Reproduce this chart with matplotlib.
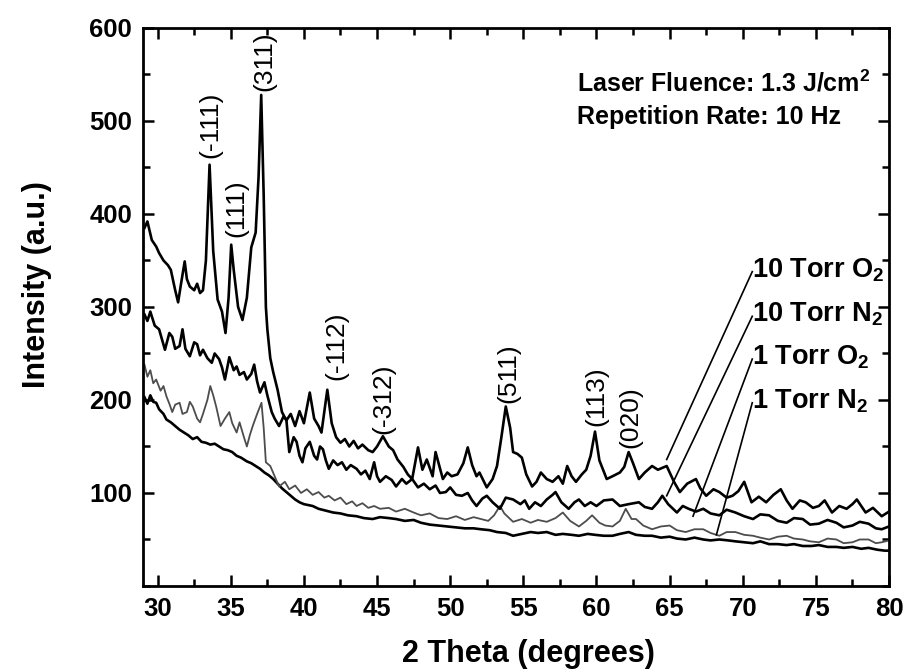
import matplotlib
matplotlib.use('Agg')
import matplotlib.pyplot as plt
from matplotlib.ticker import MultipleLocator

plt.rcParams['font.family'] = ['Liberation Sans', 'DejaVu Sans']
plt.rcParams['mathtext.fontset'] = 'custom'
plt.rcParams['mathtext.rm'] = 'Liberation Sans'
plt.rcParams['mathtext.bf'] = 'Liberation Sans:bold'

# 10 Torr O2 (top trace)
o2_10 = [(29.1, 385), (29.3, 392), (29.6, 372), (29.9, 365), (30.1, 358), (30.4, 350), (30.7, 345),
         (30.9, 340), (31.2, 318), (31.4, 305), (31.6, 325), (31.85, 349), (32.0, 330), (32.2, 322),
         (32.5, 318), (32.7, 325), (32.9, 315), (33.1, 318), (33.3, 350), (33.55, 453), (33.8, 360),
         (34.1, 308), (34.4, 295), (34.64, 272), (34.85, 310), (35.03, 367), (35.2, 340), (35.5, 300),
         (35.8, 286), (36.1, 310), (36.4, 364), (36.7, 380), (36.9, 440), (37.08, 528), (37.25, 420),
         (37.4, 300), (37.5, 276), (37.7, 245), (37.9, 230), (38.2, 211), (38.5, 187), (38.8, 178),
         (39.1, 185), (39.4, 172), (39.7, 188), (40.0, 175), (40.4, 208), (40.7, 180), (41.0, 172),
         (41.2, 165), (41.6, 211), (41.9, 175), (42.2, 160), (42.5, 154), (42.8, 158), (43.1, 150),
         (43.4, 156), (43.7, 148), (44.0, 152), (44.4, 146), (44.7, 144), (45.0, 150), (45.4, 161),
         (45.8, 150), (46.1, 146), (46.4, 136), (46.8, 128), (47.1, 120), (47.4, 115), (47.8, 149),
         (48.1, 125), (48.4, 136), (48.8, 118), (49.0, 144), (49.5, 115), (49.8, 122), (50.1, 118),
         (50.5, 120), (50.9, 132), (51.2, 149), (51.5, 130), (51.8, 118), (52.0, 122), (52.5, 106),
         (52.9, 115), (53.2, 129), (53.5, 160), (53.8, 193), (54.1, 170), (54.3, 144), (54.6, 142),
         (54.9, 138), (55.2, 120), (55.6, 107), (55.9, 112), (56.2, 122), (56.6, 115), (57.0, 112),
         (57.4, 118), (57.7, 110), (58.0, 129), (58.3, 118), (58.6, 112), (59.0, 120), (59.3, 125),
         (59.6, 140), (59.9, 166), (60.2, 135), (60.7, 115), (61.1, 118), (61.6, 122), (61.9, 128),
         (62.2, 144), (62.5, 132), (62.9, 115), (63.3, 122), (63.8, 129), (64.2, 125), (64.8, 129),
         (65.3, 112), (65.7, 101), (66.2, 110), (66.8, 115), (67.1, 105), (67.5, 97), (68.0, 104),
         (68.4, 101), (68.9, 95), (69.3, 97), (69.7, 102), (70.1, 112), (70.6, 90), (71.1, 96),
         (71.6, 90), (72.1, 98), (72.6, 104), (73.0, 92), (73.4, 83), (73.9, 92), (74.3, 90),
         (74.8, 84), (75.2, 86), (75.6, 92), (76.1, 79), (76.6, 86), (77.1, 83), (77.5, 88),
         (77.8, 93), (78.4, 79), (78.9, 84), (79.5, 75), (80.0, 80)]

# 10 Torr N2
n2_10 = [(29.1, 292), (29.3, 285), (29.5, 295), (29.8, 280), (30.1, 276), (30.3, 265), (30.5, 254),
         (30.8, 272), (31.0, 268), (31.2, 255), (31.5, 258), (31.7, 276), (31.9, 255), (32.2, 247),
         (32.5, 262), (32.7, 260), (32.9, 248), (33.1, 254), (33.4, 245), (33.7, 240), (33.9, 250),
         (34.2, 244), (34.4, 235), (34.6, 222), (34.9, 246), (35.2, 232), (35.4, 236), (35.6, 227),
         (35.9, 230), (36.1, 222), (36.4, 228), (36.6, 238), (36.8, 220), (37.0, 208), (37.3, 219),
         (37.5, 205), (37.8, 187), (38.0, 180), (38.3, 172), (38.6, 182), (38.8, 179), (39.0, 144),
         (39.3, 160), (39.5, 155), (39.7, 140), (39.9, 133), (40.1, 148), (40.4, 155), (40.7, 140),
         (40.9, 136), (41.1, 150), (41.3, 147), (41.5, 135), (41.7, 126), (42.0, 135), (42.3, 130),
         (42.6, 133), (42.9, 125), (43.2, 130), (43.6, 126), (43.9, 120), (44.2, 124), (44.5, 115),
         (44.8, 133), (45.0, 118), (45.2, 112), (45.6, 118), (46.0, 114), (46.3, 107), (46.7, 115),
         (47.0, 110), (47.4, 115), (47.8, 106), (48.2, 110), (48.6, 104), (49.0, 108), (49.3, 100),
         (49.7, 101), (50.0, 106), (50.4, 98), (50.8, 97), (51.2, 100), (51.5, 92), (51.8, 86),
         (52.2, 94), (52.5, 97), (52.9, 90), (53.4, 83), (53.8, 95), (54.3, 93), (54.8, 88),
         (55.1, 92), (55.4, 83), (55.8, 90), (56.2, 86), (56.6, 93), (57.0, 98), (57.2, 101),
         (57.6, 90), (58.1, 83), (58.5, 90), (58.8, 93), (59.2, 86), (59.6, 90), (60.0, 86),
         (60.5, 92), (61.1, 93), (61.6, 86), (62.2, 88), (62.9, 90), (63.3, 85), (63.8, 83),
         (64.2, 90), (64.5, 97), (64.9, 88), (65.5, 79), (65.9, 86), (66.3, 83), (66.8, 80),
         (67.3, 83), (67.8, 78), (68.4, 76), (68.9, 82), (69.5, 79), (70.1, 75), (70.7, 72),
         (71.2, 77), (71.8, 76), (72.4, 70), (73.0, 68), (73.5, 73), (74.1, 72), (74.6, 66),
         (75.2, 67), (75.8, 71), (76.4, 68), (76.9, 63), (77.5, 65), (78.0, 69), (78.6, 67),
         (79.1, 62), (79.5, 61), (80.0, 64)]

# 1 Torr O2 (grey trace)
o2_1 = [(29.1, 238), (29.3, 225), (29.5, 232), (29.7, 218), (29.9, 222), (30.2, 210), (30.4, 215),
        (30.6, 204), (30.8, 196), (31.0, 187), (31.2, 195), (31.5, 197), (31.7, 185), (32.0, 187),
        (32.2, 198), (32.4, 193), (32.7, 180), (32.9, 176), (33.1, 185), (33.4, 200), (33.6, 215),
        (33.8, 205), (34.0, 193), (34.3, 172), (34.6, 180), (34.9, 187), (35.1, 175), (35.4, 165),
        (35.6, 176), (35.9, 160), (36.1, 150), (36.3, 162), (36.5, 172), (36.8, 185), (37.1, 197),
        (37.25, 170), (37.4, 133), (37.7, 129), (38.0, 118), (38.3, 107), (38.7, 112), (39.0, 104),
        (39.4, 108), (39.8, 100), (40.2, 104), (40.6, 98), (41.0, 101), (41.4, 95), (41.7, 97),
        (42.1, 92), (42.5, 95), (42.9, 88), (43.3, 91), (43.6, 86), (44.0, 89), (44.4, 84),
        (44.8, 86), (45.2, 83), (45.8, 84), (46.3, 80), (46.9, 83), (47.5, 79), (48.0, 76),
        (48.6, 78), (49.2, 73), (49.8, 72), (50.4, 75), (51.0, 71), (51.6, 74), (52.1, 72),
        (52.6, 70), (53.0, 76), (53.4, 86), (53.7, 78), (54.3, 69), (54.9, 72), (55.5, 68),
        (56.0, 71), (56.6, 69), (57.2, 73), (57.7, 79), (58.2, 70), (58.8, 64), (59.3, 70),
        (59.7, 76), (60.2, 68), (60.6, 65), (61.1, 64), (61.6, 70), (62.0, 83), (62.4, 72),
        (62.7, 72), (63.2, 65), (63.8, 61), (64.4, 64), (65.0, 65), (65.5, 60), (66.1, 58),
        (66.7, 61), (67.3, 61), (67.8, 57), (68.4, 54), (68.9, 58), (69.5, 58), (70.1, 55),
        (70.7, 54), (71.2, 52), (71.8, 50), (72.4, 53), (73.0, 54), (73.5, 51), (74.1, 50),
        (74.6, 48), (75.2, 47), (75.8, 51), (76.4, 50), (76.9, 46), (77.5, 47), (78.0, 50),
        (78.6, 50), (79.1, 46), (79.5, 47), (80.0, 49)]

# 1 Torr N2 (lowest trace)
n2_1 = [(29.1, 203), (29.3, 196), (29.5, 205), (29.7, 198), (29.9, 197), (30.1, 190), (30.4, 185),
        (30.6, 179), (30.9, 176), (31.2, 172), (31.5, 168), (31.8, 165), (32.1, 162), (32.4, 158),
        (32.7, 160), (33.0, 155), (33.3, 154), (33.6, 152), (33.9, 153), (34.2, 150), (34.5, 147),
        (34.8, 146), (35.1, 144), (35.4, 140), (35.7, 138), (36.1, 134), (36.4, 132), (36.7, 129),
        (37.0, 126), (37.3, 122), (37.6, 119), (37.9, 115), (38.2, 110), (38.5, 105), (38.8, 101),
        (39.1, 97), (39.4, 93), (39.7, 90), (40.0, 88), (40.3, 87), (40.6, 86), (41.0, 83),
        (41.5, 81), (42.0, 79), (42.5, 78), (43.0, 76), (43.6, 75), (44.1, 73), (44.7, 72),
        (45.2, 74), (45.8, 73), (46.3, 72), (46.9, 70), (47.5, 71), (48.0, 68), (48.6, 66),
        (49.2, 65), (49.8, 64), (50.4, 63), (51.0, 62), (51.6, 62), (52.1, 61), (52.7, 60),
        (53.2, 58), (53.8, 57), (54.3, 54), (54.9, 56), (55.5, 58), (56.0, 57), (56.6, 58),
        (57.2, 55), (57.7, 56), (58.3, 55), (58.8, 54), (59.4, 56), (59.9, 55), (60.5, 54),
        (61.1, 54), (61.6, 56), (62.2, 58), (62.7, 55), (63.3, 54), (63.8, 54), (64.4, 52),
        (65.0, 53), (65.5, 51), (66.1, 50), (66.7, 52), (67.3, 50), (67.8, 49), (68.4, 50),
        (69.0, 49), (69.5, 48), (70.1, 47), (70.7, 46), (71.2, 48), (71.8, 45), (72.4, 45),
        (73.0, 44), (73.5, 45), (74.1, 43), (74.7, 43), (75.2, 44), (75.8, 42), (76.4, 42),
        (76.9, 41), (77.5, 42), (78.1, 40), (78.6, 41), (79.2, 39), (79.7, 38), (80.0, 38)]

# peak labels: (text, x, y of text bottom)
peak_labels = [('(-111)', 33.6, 460), ('(111)', 35.35, 375), ('(311)', 37.3, 532),
               ('(-112)', 42.2, 222), ('(-312)', 45.4, 163), ('(511)', 54.0, 197),
               ('(113)', 60.0, 172), ('(020)', 62.35, 148)]

# legend labels: (text, label anchor y, leader end x, leader end y)
series_labels = [(r'10 Torr O$_\mathbf{2}$', 340, 64.8, 136),
                 (r'10 Torr N$_\mathbf{2}$', 292, 64.8, 97),
                 (r'1 Torr O$_\mathbf{2}$', 246, 66.6, 75),
                 (r'1 Torr N$_\mathbf{2}$', 199, 68.2, 55)]

fig = plt.figure(figsize=(9.08, 6.71), dpi=100)
ax = fig.add_axes([0.1575, 0.1267, 0.8216, 0.8316])

ax.plot(*zip(*o2_10), color='black', lw=1.9, zorder=4)
ax.plot(*zip(*n2_10), color='black', lw=1.9, zorder=3)
ax.plot(*zip(*o2_1), color='#4d4d4d', lw=1.3, zorder=2)
ax.plot(*zip(*n2_1), color='black', lw=1.9, zorder=1)

for txt, px, py in peak_labels:
    ax.text(px, py, txt, rotation=90, ha='center', va='bottom', fontsize=19)

label_x = 70.6
for txt, ly, ex, ey in series_labels:
    ax.text(label_x, ly, txt, ha='left', va='center', fontsize=19.5, fontweight='bold')
    ax.plot([label_x + 0.05, ex], [ly - 2, ey], color='black', lw=1.2)

ax.text(0.582, 0.901, r'Laser Fluence: 1.3 J/cm$^\mathbf{2}$', transform=ax.transAxes,
        ha='left', va='center', fontsize=18, fontweight='bold')
ax.text(0.582, 0.840, 'Repetition Rate: 10 Hz', transform=ax.transAxes,
        ha='left', va='center', fontsize=18, fontweight='bold')

ax.set_xlim(29, 80)
ax.set_ylim(0, 600)
ax.set_xticks(range(30, 81, 5))
ax.set_yticks(range(100, 601, 100))
ax.xaxis.set_minor_locator(MultipleLocator(2.5))
ax.yaxis.set_minor_locator(MultipleLocator(50))
ax.tick_params(which='both', direction='in', top=True, right=True, width=1.8)
ax.tick_params(which='major', length=8, labelsize=18.5, pad=8)
ax.tick_params(which='minor', length=5)
for lab in ax.get_xticklabels() + ax.get_yticklabels():
    lab.set_fontweight('bold')
for sp in ax.spines.values():
    sp.set_linewidth(2.0)

ax.set_xlabel('2 Theta (degrees)', fontsize=22, fontweight='bold')
ax.set_ylabel('Intensity (a.u.)', fontsize=22, fontweight='bold')
ax.xaxis.set_label_coords(0.516, -0.095)
ax.yaxis.set_label_coords(-0.122, 0.54)

fig.savefig('out.png', dpi=100)
